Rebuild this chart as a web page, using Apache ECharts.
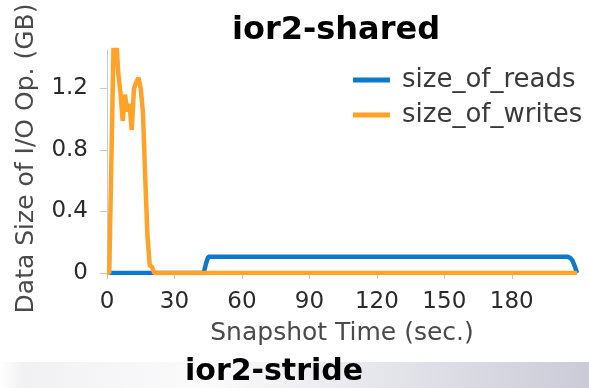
<!DOCTYPE html>
<html>
<head>
<meta charset="utf-8">
<script src="https://cdn.jsdelivr.net/npm/echarts@6/dist/echarts.min.js"></script>
<style>
  html, body { margin: 0; padding: 0; background: #fff; }
  #chart { width: 589px; height: 388px; }
</style>
</head>
<body>
<div id="chart"></div>
<script>
// Snapshot times (sec.) and data sizes (GB) for each I/O kind
const readTimes  = [0, 43, 44, 45, 100, 150, 205, 206, 207, 208, 209];
const readSizes  = [0, 0, 0.06, 0.105, 0.105, 0.105, 0.105, 0.098, 0.08, 0.045, 0];

const writeTimes = [0, 1, 3, 4, 5, 6, 7, 8, 9, 10, 11, 12, 13, 14, 15, 16, 17, 18, 19, 20, 21, 209];
const writeSizes = [0, 0, 1.55, 1.55, 1.3, 1.17, 0.99, 1.16, 1.05, 1.1, 0.93, 1.2, 1.24, 1.27, 1.2, 1.04, 0.62, 0.24, 0.05, 0.04, 0, 0];

const xTicks = { min: 0, max: 209, step: 30 };
const yTicks = { min: 0, max: 1.45, step: 0.4 };

const pairs = (ts, vs) => ts.map((t, i) => [t, vs[i]]);

const chart = echarts.init(document.getElementById('chart'), null, { renderer: 'canvas' });

const sans = '"DejaVu Sans", sans-serif';
const tickText = { color: '#2b2b2b', fontSize: 23, fontFamily: sans };
const nameText = { color: '#4a4a4a', fontSize: 25, fontFamily: sans };

chart.setOption({
  backgroundColor: '#ffffff',
  animation: false,
  title: {
    text: 'ior2-shared',
    left: 331, top: 10, textAlign: 'center',
    textStyle: { fontSize: 32, fontWeight: 'bold', color: '#000', fontFamily: sans }
  },
  graphic: [
    {
      type: 'rect', z: -10,
      shape: { x: 0, y: 362, width: 589, height: 26 },
      style: {
        fill: new echarts.graphic.LinearGradient(0, 0, 1, 0, [
          { offset: 0, color: '#ffffff' },
          { offset: 0.04, color: '#f1f1f3' },
          { offset: 0.35, color: '#fbfbfc' },
          { offset: 1, color: '#cbcbd8' }
        ])
      }
    },
    {
      type: 'text', left: 185, top: 357, z: 10,
      style: { text: 'ior2-stride', fontSize: 30, fontWeight: 'bold', fill: '#000', fontFamily: sans }
    }
  ],
  legend: {
    orient: 'vertical',
    left: 353, top: 67, padding: 0,
    icon: 'rect',
    itemWidth: 37, itemHeight: 5, itemGap: 9,
    textStyle: { color: '#3a3a3a', fontSize: 26, fontFamily: sans, padding: [0, 0, 0, 7] },
    data: ['size_of_reads', 'size_of_writes']
  },
  grid: { left: 107, right: 12, top: 50, bottom: 115, containLabel: false },
  xAxis: {
    type: 'value',
    min: xTicks.min, max: xTicks.max, interval: xTicks.step,
    name: 'Snapshot Time (sec.)',
    nameLocation: 'middle', nameGap: 48,
    nameTextStyle: nameText,
    axisLine: { show: true, lineStyle: { color: '#cccccc', width: 1 } },
    axisTick: { show: true, length: 6, lineStyle: { color: '#c8c8c8' } },
    axisLabel: Object.assign({ margin: 18, showMaxLabel: false }, tickText),
    splitLine: { show: false }
  },
  yAxis: {
    type: 'value',
    min: yTicks.min, max: yTicks.max, interval: yTicks.step,
    name: 'Data Size of I/O Op. (GB)',
    nameLocation: 'middle', nameGap: 68, nameRotate: 90,
    nameTextStyle: Object.assign({ padding: [0, 0, 0, 6] }, nameText),
    axisLine: { show: true, lineStyle: { color: '#cccccc', width: 1 } },
    axisTick: { show: true, length: 7, lineStyle: { color: '#c8c8c8' } },
    axisLabel: Object.assign({ margin: 19, showMaxLabel: false }, tickText),
    splitLine: { show: false }
  },
  series: [
    {
      name: 'size_of_reads', type: 'line', symbol: 'none', z: 2,
      color: '#0d78cc',
      lineStyle: { width: 4.5, color: '#0d78cc' },
      data: pairs(readTimes, readSizes)
    },
    {
      name: 'size_of_writes', type: 'line', symbol: 'none', z: 3,
      color: '#ffa228',
      lineStyle: { width: 4.5, color: '#ffa228' },
      data: pairs(writeTimes, writeSizes)
    }
  ]
});
</script>
</body>
</html>
